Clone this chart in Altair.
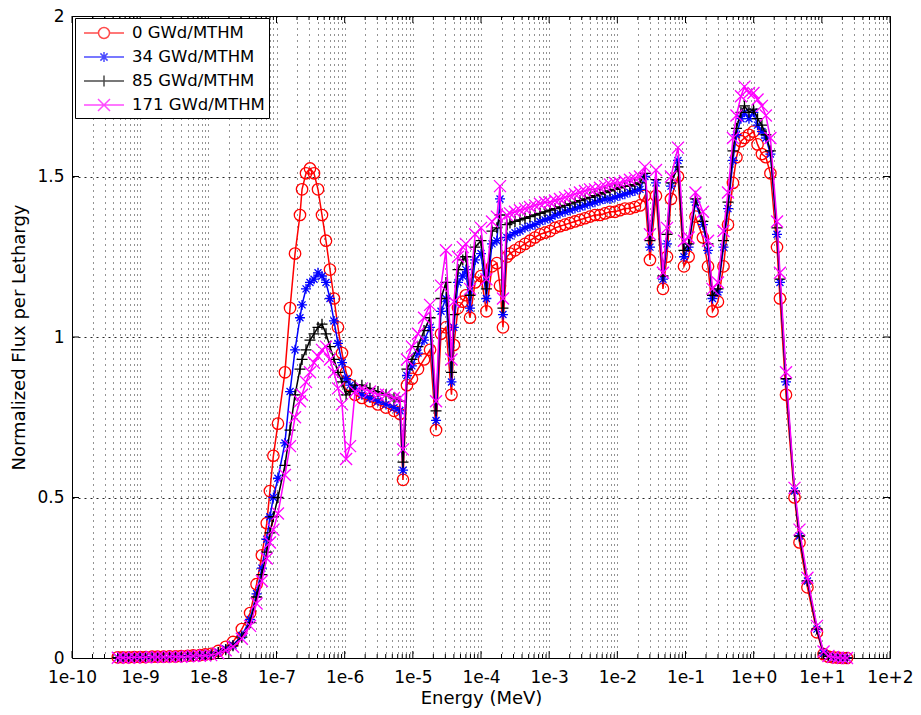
import altair as alt
import pandas as pd

# Burnup states and their plotting colours
SERIES = ["0 GWd/MTHM", "34 GWd/MTHM", "85 GWd/MTHM", "171 GWd/MTHM"]
COLORS = ["#ff0000", "#0000ff", "#000000", "#ff00ff"]

# Group energies (MeV)
ENERGY = [
    4.7e-10, 5.6e-10, 6.8e-10, 8.2e-10, 1.0e-9, 1.2e-9, 1.5e-9, 1.8e-9, 2.2e-9, 2.7e-9,
    3.3e-9, 4.0e-9, 5.0e-9, 6.0e-9, 7.5e-9, 9.0e-9, 1.1e-8, 1.4e-8, 1.8e-8, 2.3e-8,
    3.1e-8, 4.1e-8, 5.1e-8, 6.1e-8, 7.2e-8, 8.0e-8, 9.0e-8, 1.05e-7, 1.33e-7, 1.58e-7,
    1.87e-7, 2.21e-7, 2.37e-7, 2.71e-7, 3.10e-7, 3.55e-7, 4.06e-7, 4.65e-7, 5.32e-7, 6.09e-7,
    6.97e-7, 7.98e-7, 9.14e-7, 1.05e-6, 1.2e-6, 1.42e-6, 1.79e-6, 2.35e-6, 3.08e-6, 4.04e-6,
    5.29e-6, 6.48e-6, 7.17e-6, 8.2e-6, 9.7e-6, 1.19e-5, 1.46e-5, 1.79e-5, 2.19e-5, 2.59e-5,
    3.06e-5, 3.69e-5, 4.0e-5, 4.6e-5, 5.4e-5, 6.0e-5, 6.9e-5, 8.2e-5, 1.0e-4, 1.2e-4,
    1.45e-4, 1.71e-4, 1.9e-4, 2.1e-4,
    2.4e-4, 2.66e-4, 3.15e-4, 3.73e-4, 4.42e-4, 5.23e-4, 6.19e-4, 7.33e-4, 8.69e-4, 1.03e-3,
    1.22e-3, 1.44e-3, 1.71e-3, 2.02e-3, 2.39e-3, 2.83e-3, 3.35e-3, 3.97e-3, 4.70e-3, 5.56e-3,
    6.59e-3, 7.80e-3, 9.23e-3, 1.09e-2, 1.29e-2, 1.53e-2, 1.81e-2, 2.15e-2,
    2.54e-2, 3.01e-2, 3.69e-2, 4.67e-2, 5.35e-2, 6.12e-2, 7.76e-2, 9.5e-2, 0.111, 0.140,
    0.180, 0.214, 0.249, 0.299, 0.361, 0.420, 0.497, 0.559, 0.651, 0.733,
    0.853, 0.993, 1.14, 1.32, 1.51, 1.76, 2.20, 2.43, 2.98, 3.97,
    4.70, 6.15, 8.47, 10.6, 12.5, 14.6, 17.3, 20.4, 23.4,
]

# Normalized flux per lethargy, one list per burnup
FLUX_0 = [
    0.002, 0.002, 0.002, 0.003, 0.003, 0.003, 0.004, 0.004, 0.004, 0.005,
    0.005, 0.006, 0.007, 0.008, 0.009, 0.011, 0.013, 0.022, 0.035, 0.050,
    0.09, 0.14, 0.23, 0.32, 0.42, 0.52, 0.63, 0.73, 0.89, 1.09,
    1.26, 1.38, 1.46, 1.51, 1.525, 1.51, 1.46, 1.38, 1.30, 1.21,
    1.12, 1.03, 0.95, 0.89, 0.85, 0.82, 0.81, 0.80, 0.79, 0.78,
    0.77, 0.76, 0.555, 0.85, 0.87, 0.90, 0.93, 0.96, 0.71, 1.01,
    1.03, 0.82, 0.975, 1.09, 1.11, 1.13, 1.06, 1.17, 1.19, 1.08,
    1.22, 1.23, 1.16, 1.03,
    1.25, 1.26, 1.27, 1.28, 1.29, 1.30, 1.31, 1.32, 1.325, 1.33,
    1.34, 1.345, 1.35, 1.355, 1.36, 1.365, 1.37, 1.375, 1.38, 1.38,
    1.385, 1.39, 1.39, 1.395, 1.40, 1.40, 1.405, 1.41,
    1.44, 1.24, 1.44, 1.15, 1.25, 1.43, 1.50, 1.22, 1.25, 1.375,
    1.31, 1.22, 1.08, 1.11, 1.22, 1.35, 1.48, 1.56, 1.61, 1.62,
    1.63, 1.64, 1.60, 1.57, 1.56, 1.51, 1.28, 1.12, 0.82, 0.50,
    0.36, 0.22, 0.08, 0.012, 0.004, 0.002, 0.001, 0.0, 0.0,
]
FLUX_34 = [
    0.001, 0.002, 0.002, 0.002, 0.003, 0.003, 0.003, 0.004, 0.004, 0.004,
    0.005, 0.005, 0.006, 0.007, 0.008, 0.009, 0.011, 0.018, 0.028, 0.040,
    0.07, 0.12, 0.20, 0.28, 0.37, 0.44, 0.50, 0.56, 0.67, 0.83,
    0.96, 1.06, 1.10, 1.15, 1.17, 1.18, 1.20, 1.19, 1.17, 1.12,
    1.05, 0.98, 0.92, 0.87, 0.85, 0.84, 0.82, 0.81, 0.80, 0.79,
    0.78, 0.77, 0.585, 0.88, 0.91, 0.95, 0.99, 1.03, 0.74, 1.08,
    1.12, 0.86, 1.03, 1.17, 1.19, 1.21, 1.09, 1.24, 1.26, 1.12,
    1.29, 1.30, 1.43, 1.07,
    1.31, 1.315, 1.325, 1.33, 1.34, 1.345, 1.35, 1.36, 1.365, 1.37,
    1.38, 1.385, 1.39, 1.395, 1.40, 1.405, 1.41, 1.415, 1.42, 1.425,
    1.43, 1.43, 1.435, 1.44, 1.445, 1.45, 1.455, 1.46,
    1.50, 1.28, 1.48, 1.18, 1.29, 1.47, 1.55, 1.25, 1.28, 1.42,
    1.35, 1.27, 1.12, 1.14, 1.28, 1.40, 1.55, 1.63, 1.68, 1.70,
    1.68, 1.70, 1.66, 1.64, 1.62, 1.57, 1.32, 1.17, 0.86, 0.52,
    0.38, 0.24, 0.09, 0.015, 0.005, 0.002, 0.001, 0.0, 0.0,
]
FLUX_85 = [
    0.001, 0.001, 0.002, 0.002, 0.002, 0.003, 0.003, 0.003, 0.004, 0.004,
    0.004, 0.005, 0.005, 0.006, 0.007, 0.009, 0.010, 0.017, 0.026, 0.038,
    0.065, 0.11, 0.19, 0.26, 0.33, 0.39, 0.44, 0.50, 0.60, 0.71,
    0.82, 0.90, 0.93, 0.96, 0.99, 1.01, 1.03, 1.04, 1.01, 0.97,
    0.93, 0.89, 0.86, 0.82, 0.83, 0.85, 0.85, 0.84, 0.83, 0.82,
    0.81, 0.80, 0.61, 0.90, 0.93, 0.97, 1.02, 1.06, 0.77, 1.12,
    1.17, 0.89, 1.07, 1.21, 1.24, 1.25, 1.13, 1.28, 1.30, 1.15,
    1.33, 1.34, 1.38, 1.09,
    1.35, 1.355, 1.36, 1.365, 1.37, 1.375, 1.38, 1.385, 1.39, 1.395,
    1.40, 1.405, 1.41, 1.415, 1.42, 1.425, 1.43, 1.435, 1.44, 1.445,
    1.45, 1.455, 1.46, 1.465, 1.47, 1.47, 1.475, 1.48,
    1.51, 1.30, 1.49, 1.19, 1.32, 1.48, 1.53, 1.27, 1.29, 1.43,
    1.36, 1.29, 1.13, 1.15, 1.30, 1.42, 1.58, 1.65, 1.70, 1.72,
    1.70, 1.71, 1.68, 1.66, 1.63, 1.58, 1.34, 1.18, 0.87, 0.52,
    0.38, 0.24, 0.09, 0.015, 0.005, 0.002, 0.001, 0.0, 0.0,
]
FLUX_171 = [
    0.001, 0.001, 0.001, 0.002, 0.002, 0.002, 0.003, 0.003, 0.003, 0.004,
    0.004, 0.004, 0.005, 0.006, 0.007, 0.008, 0.009, 0.015, 0.024, 0.035,
    0.06, 0.10, 0.17, 0.24, 0.31, 0.36, 0.40, 0.45, 0.57, 0.66,
    0.75, 0.80, 0.82, 0.86, 0.89, 0.92, 0.94, 0.96, 0.97, 0.93,
    0.89, 0.84, 0.79, 0.62, 0.66, 0.83, 0.84, 0.83, 0.82, 0.82,
    0.81, 0.81, 0.65, 0.93, 0.97, 1.01, 1.06, 1.10, 0.80, 1.16,
    1.27, 0.93, 1.11, 1.25, 1.28, 1.29, 1.15, 1.32, 1.34, 1.18,
    1.36, 1.375, 1.47, 1.12,
    1.38, 1.385, 1.39, 1.395, 1.40, 1.405, 1.41, 1.415, 1.42, 1.42,
    1.425, 1.43, 1.435, 1.44, 1.445, 1.45, 1.455, 1.46, 1.46, 1.465,
    1.47, 1.475, 1.48, 1.48, 1.485, 1.49, 1.495, 1.50,
    1.53, 1.32, 1.52, 1.20, 1.34, 1.50, 1.59, 1.30, 1.31, 1.45,
    1.39, 1.30, 1.15, 1.17, 1.33, 1.45, 1.62, 1.69, 1.75, 1.78,
    1.76, 1.76, 1.74, 1.72, 1.69, 1.62, 1.36, 1.20, 0.89, 0.53,
    0.40, 0.25, 0.10, 0.02, 0.006, 0.003, 0.001, 0.0, 0.0,
]

FLUXES = [FLUX_0, FLUX_34, FLUX_85, FLUX_171]
for vals in FLUXES:
    assert len(vals) == len(ENERGY), (len(vals), len(ENERGY))

# Plot-area size and typography
W, H = 818, 642
FONT = "DejaVu Sans"
LABEL_FS = 17
TITLE_FS = 18
LEGEND_FS = 16.5

# Marker glyphs (unit square paths) and their legend versions with a line through them
MARKERS = [
    "circle",
    "M-1,0H1M0,-1V1M-0.7,-0.7L0.7,0.7M-0.7,0.7L0.7,-0.7",
    "M-1,0H1M0,-1V1",
    "M-1,-1L1,1M-1,1L1,-1",
]
MARKER_SIZES = [130, 100, 121, 144]
LEGEND_SHAPES = [
    "M-2,0H-0.55A0.55,0.55,0,1,1,0.55,0H2M0.55,0A0.55,0.55,0,1,1,-0.55,0",
    "M-2,0H2M0,-0.5V0.5M-0.36,-0.36L0.36,0.36M-0.36,0.36L0.36,-0.36",
    "M-2,0H2M0,-0.55V0.55",
    "M-2,0H2M-0.6,-0.6L0.6,0.6M-0.6,0.6L0.6,-0.6",
]

rows = []
for name, vals in zip(SERIES, FLUXES):
    for e, v in zip(ENERGY, vals):
        rows.append({"energy": e, "flux": v, "series": name})
df = pd.DataFrame(rows)

DECADES = [10.0 ** k for k in range(-10, 3)]
MINORS = [m * 10.0 ** k for k in range(-10, 2) for m in range(2, 10)]
Y_TICKS = [0.5, 1.0, 1.5]

x_scale = alt.Scale(type="log", domain=[1e-10, 1e2], nice=False)
y_scale = alt.Scale(domain=[0, 2], nice=False)

exp_expr = "round(log(datum.value) / LN10)"
x_axis = alt.Axis(
    title="Energy (MeV)",
    values=sorted(DECADES + MINORS),
    labelExpr=(
        f"abs(log(datum.value) / LN10 - {exp_expr}) < 0.001 ? "
        f"'1e' + ({exp_expr} < 0 ? '-' : '+') + abs({exp_expr}) : ''"
    ),
    grid=True,
    gridColor="black",
    gridDash=[1, 5],
    gridWidth=1,
    gridOpacity=0.85,
    ticks=False,
    domain=False,
    labelOverlap=False,
    labelFlush=False,
    labelPadding=11,
    titlePadding=4,
)
y_axis = alt.Axis(
    title="Normalized Flux per Lethargy",
    values=[0, 0.5, 1, 1.5, 2],
    format="~g",
    grid=True,
    gridColor="black",
    gridDash=[2, 4],
    gridWidth=1,
    gridOpacity=0.85,
    ticks=False,
    domain=False,
    labelOverlap=False,
    labelFlush=False,
    labelPadding=8,
    titlePadding=8,
)

X = alt.X("energy:Q", scale=x_scale, axis=x_axis)
Y = alt.Y("flux:Q", scale=y_scale, axis=y_axis)

layers = []

# Inward tick marks on all four sides of the frame
def xticks(values, length):
    d = pd.DataFrame({"energy": values})
    base = alt.Chart(d).mark_rule(color="black", strokeWidth=1)
    return [
        base.encode(x=X, y=alt.value(H - length), y2=alt.value(H)),
        base.encode(x=X, y=alt.value(0), y2=alt.value(length)),
    ]

layers += xticks(MINORS, 4)
layers += xticks(DECADES, 7)
yt = alt.Chart(pd.DataFrame({"flux": Y_TICKS})).mark_rule(color="black", strokeWidth=1)
layers += [
    yt.encode(y=Y, x=alt.value(0), x2=alt.value(7)),
    yt.encode(y=Y, x=alt.value(W - 7), x2=alt.value(W)),
]

# One line plus markers per burnup state, later states drawn on top
for name, color, shape, size in zip(SERIES, COLORS, MARKERS, MARKER_SIZES):
    base = alt.Chart(df).transform_filter(alt.datum.series == name)
    layers.append(base.mark_line(color=color, strokeWidth=1.5).encode(x=X, y=Y))
    layers.append(
        base.mark_point(shape=shape, color=color, size=size, filled=False,
                        strokeWidth=1.3, opacity=1).encode(x=X, y=Y)
    )

# Legend (line-with-marker symbols)
leg = alt.Legend(
    title=None,
    orient="none",
    legendX=3,
    legendY=2,
    padding=4,
    strokeColor="black",
    fillColor="white",
    labelFont=FONT,
    labelFontSize=LEGEND_FS,
    labelColor="black",
    symbolSize=400,
    symbolStrokeWidth=1.5,
    symbolOffset=14,
    labelOffset=17,
    rowPadding=4,
)
legend_layer = (
    alt.Chart(pd.DataFrame({"series": SERIES}))
    .transform_filter("false")
    .mark_point(filled=False, strokeWidth=1.5)
    .encode(
        color=alt.Color("series:N", scale=alt.Scale(domain=SERIES, range=COLORS), legend=leg),
        shape=alt.Shape("series:N", scale=alt.Scale(domain=SERIES, range=LEGEND_SHAPES), legend=leg),
    )
)
layers.append(legend_layer)

chart = (
    alt.layer(*layers)
    .properties(
        width=W,
        height=H,
        padding={"left": 72, "top": 16, "right": 31, "bottom": 57},
        autosize=alt.AutoSizeParams(type="none"),
        background="white",
    )
    .configure_view(stroke="black", strokeWidth=1)
    .configure_axis(
        labelFont=FONT,
        labelFontSize=LABEL_FS,
        labelColor="black",
        titleFont=FONT,
        titleFontSize=TITLE_FS,
        titleFontWeight="normal",
        titleColor="black",
    )
)

chart.save("out.html", embed_options={"renderer": "svg", "actions": False})
